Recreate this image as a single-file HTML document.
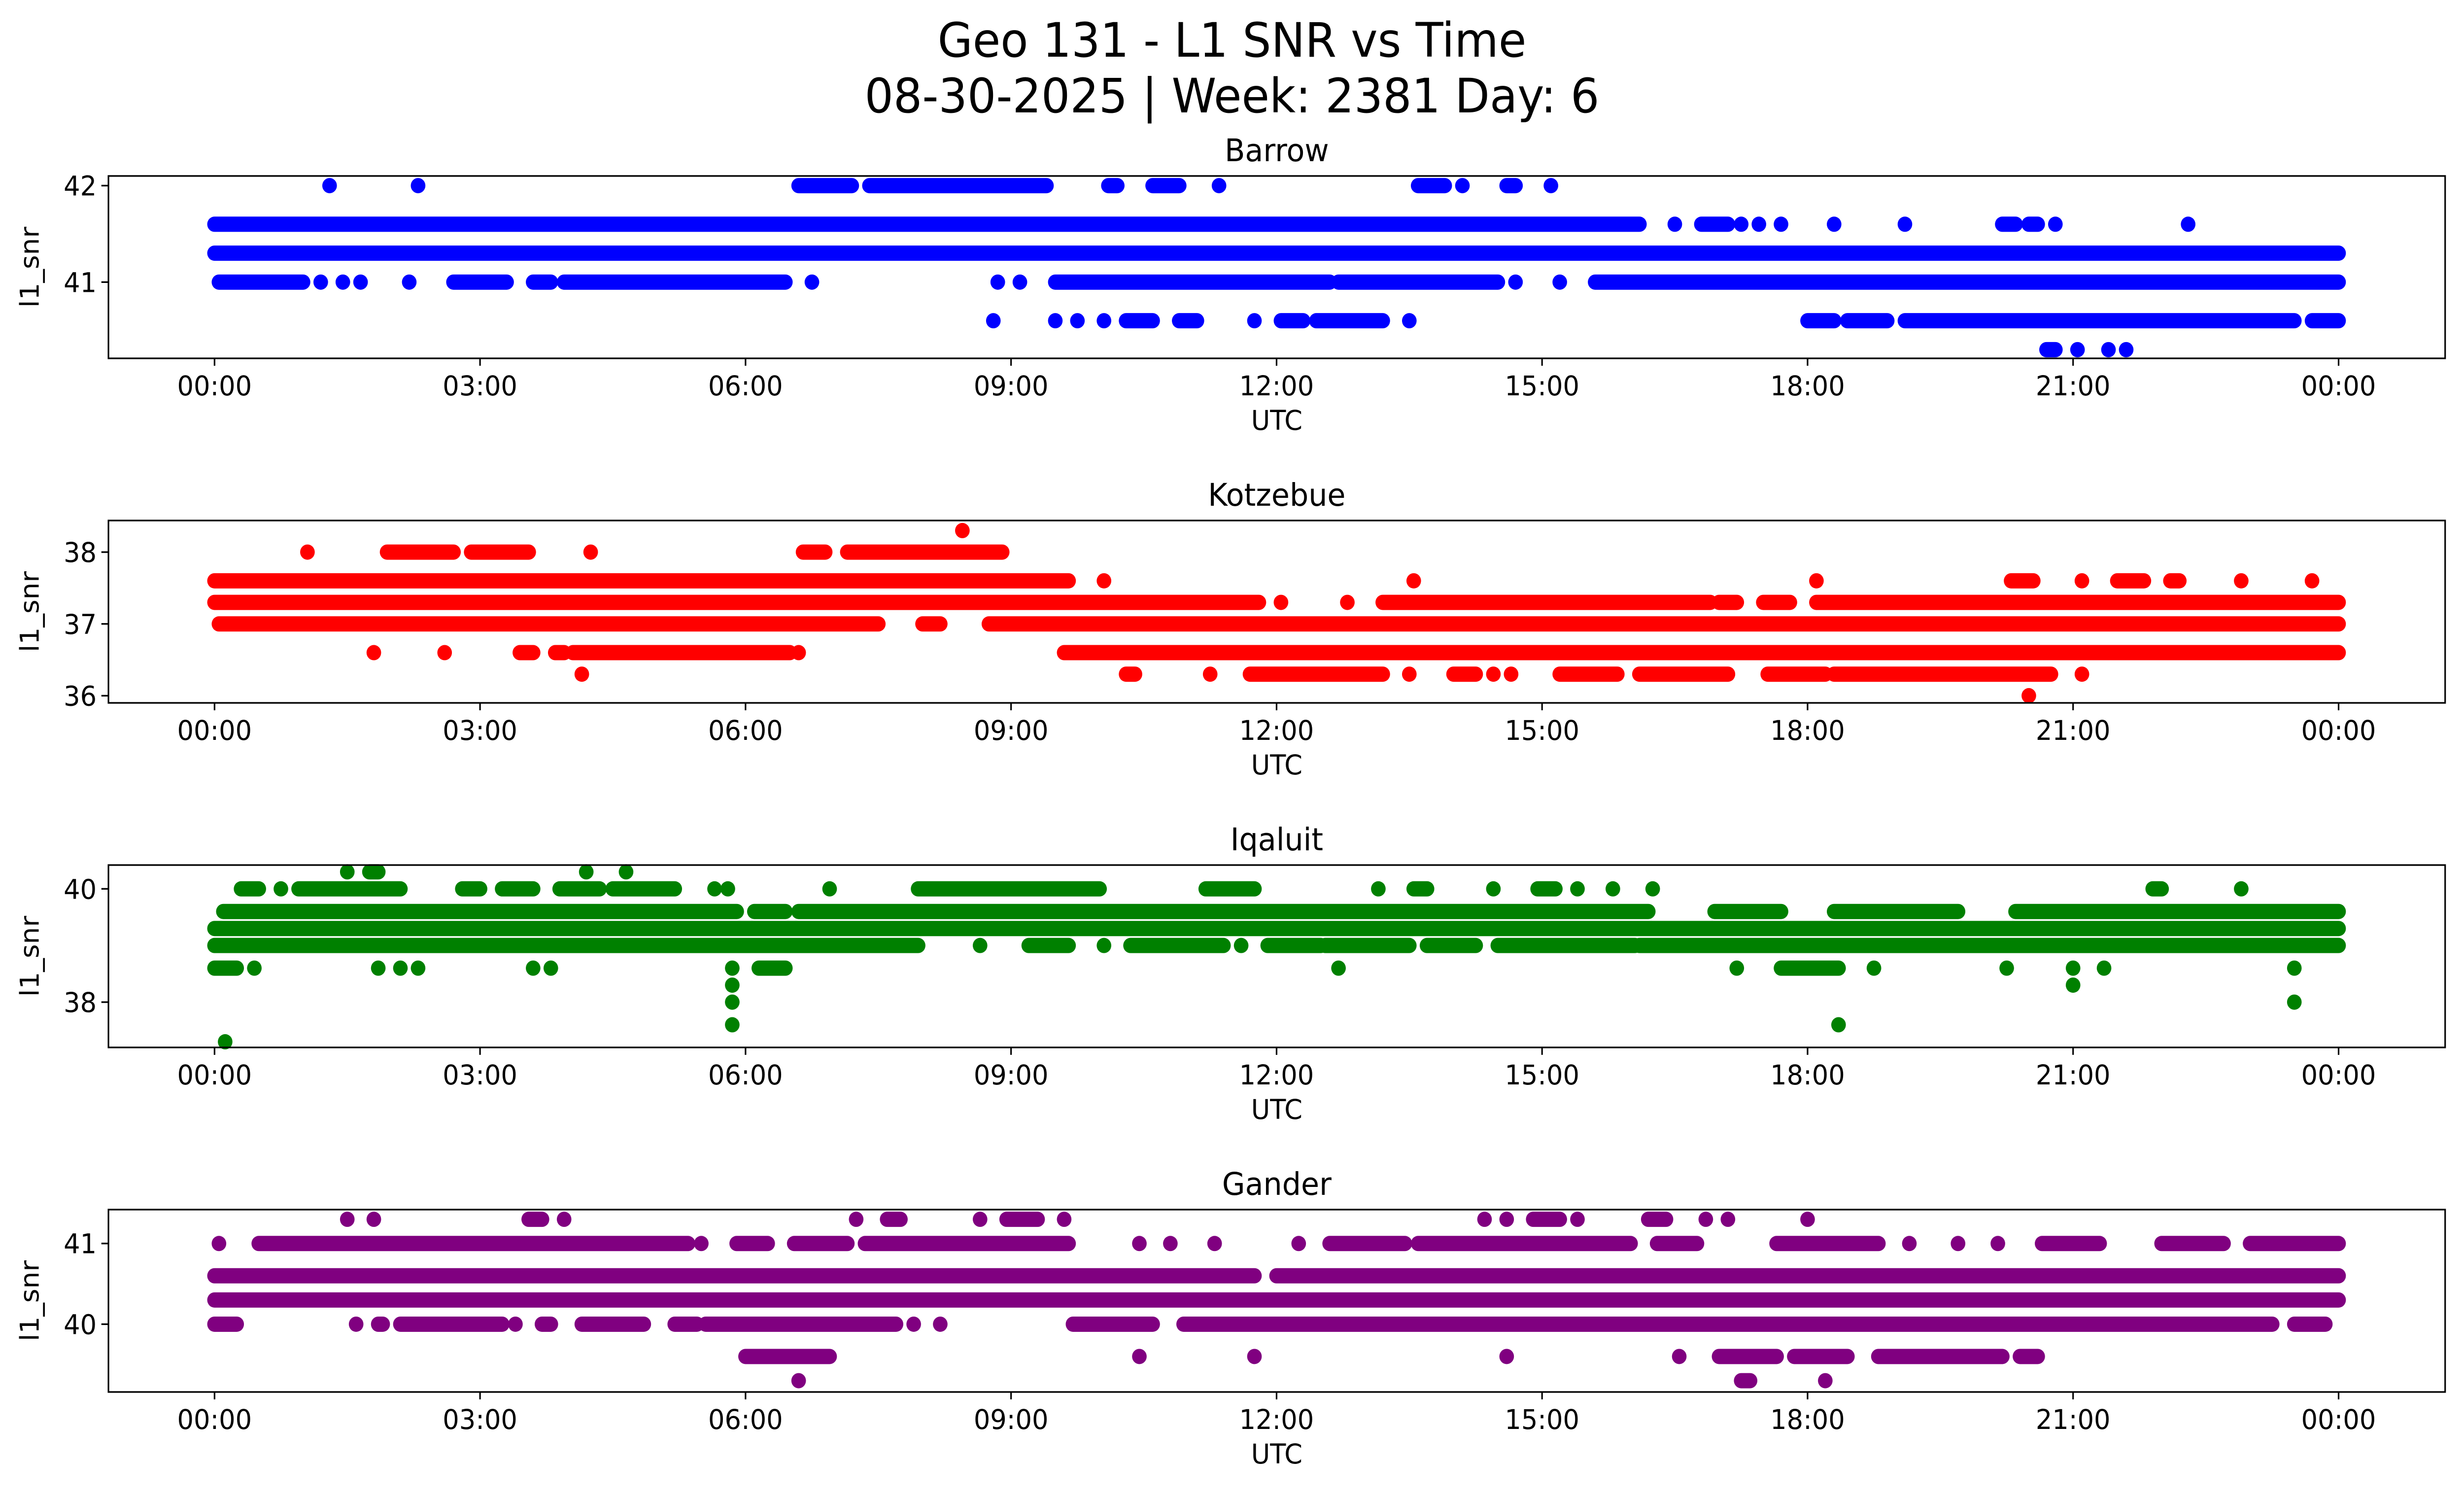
<!DOCTYPE html>
<html><head><meta charset="utf-8"><style>
html,body{margin:0;padding:0;background:#fff;overflow:hidden;width:100%;height:100%}
svg{display:block;position:fixed;left:0;top:0;width:100vw;height:100vh}
text{font-family:"DejaVu Sans","Liberation Sans",sans-serif;fill:#000}
</style></head><body>
<svg id="fig" viewBox="0 0 5226 3033" preserveAspectRatio="none" xmlns="http://www.w3.org/2000/svg">
<rect width="5226" height="3033" fill="#fff"/>
<text x="2613" y="115" font-size="96" text-anchor="middle">Geo 131 - L1 SNR vs Time</text>
<text x="2613" y="228" font-size="96" text-anchor="middle">08-30-2025 | Week: 2381 Day: 6</text>
<g id="plots"></g>
</svg>
<script>
const stations = ["Barrow","Kotzebue","Iqaluit","Gander"];
const colors = ["#0000ff","#ff0000","#008000","#800080"];
const xTickLabels = ["00:00","03:00","06:00","09:00","12:00","15:00","18:00","21:00","00:00"];
const xTickHours = [0,3,6,9,12,15,18,21,24];
const yTicks0 = [41,42];
const yTicks1 = [36,37,38];
const yTicks2 = [38,40];
const yTicks3 = [40,41];
const yRange0 = [40.21,42.1];
const yRange1 = [35.9,38.44];
const yRange2 = [37.2,40.42];
const yRange3 = [39.16,41.42];
// Observation runs per SNR level: [startHour, endHour] (equal = single obs)
const barrow = [
 [41.3, [[0,24]]],
 [41.6, [[0,16.1],[16.5,16.5],[16.8,17.1],[17.25,17.25],[17.45,17.45],[17.7,17.7],[18.3,18.3],[19.1,19.1],[20.2,20.35],[20.5,20.6],[20.8,20.8],[22.3,22.3]]],
 [41.0, [[0.05,1.0],[1.2,1.2],[1.45,1.45],[1.65,1.65],[2.2,2.2],[2.7,3.3],[3.6,3.8],[3.95,6.45],[6.75,6.75],[8.85,8.85],[9.1,9.1],[9.5,12.6],[12.7,14.5],[14.7,14.7],[15.2,15.2],[15.6,24]]],
 [42.0, [[1.3,1.3],[2.3,2.3],[6.6,7.2],[7.4,9.4],[10.1,10.2],[10.6,10.9],[11.35,11.35],[13.6,13.9],[14.1,14.1],[14.6,14.7],[15.1,15.1]]],
 [40.6, [[8.8,8.8],[9.5,9.5],[9.75,9.75],[10.05,10.05],[10.3,10.6],[10.9,11.1],[11.75,11.75],[12.05,12.3],[12.45,13.2],[13.5,13.5],[18.0,18.3],[18.45,18.9],[19.1,23.5],[23.7,24]]],
 [40.3, [[20.7,20.8],[21.05,21.05],[21.4,21.4],[21.6,21.6]]]
];
const kotzebue = [
 [37.6, [[0,9.65],[10.05,10.05],[13.55,13.55],[18.1,18.1],[20.3,20.55],[21.1,21.1],[21.5,21.8],[22.1,22.2],[22.9,22.9],[23.7,23.7]]],
 [37.3, [[0,11.8],[12.05,12.05],[12.8,12.8],[13.2,16.9],[17.0,17.2],[17.5,17.8],[18.1,24]]],
 [37.0, [[0.05,7.5],[8.0,8.2],[8.75,24]]],
 [36.6, [[1.8,1.8],[2.6,2.6],[3.45,3.6],[3.85,3.95],[4.05,6.5],[6.6,6.6],[9.6,24]]],
 [36.3, [[4.15,4.15],[10.3,10.4],[11.25,11.25],[11.7,13.2],[13.5,13.5],[14.0,14.25],[14.45,14.45],[14.65,14.65],[15.2,15.85],[16.1,17.1],[17.55,18.2],[18.3,20.75],[21.1,21.1]]],
 [38.0, [[1.05,1.05],[1.95,2.7],[2.9,3.55],[4.25,4.25],[6.65,6.9],[7.15,8.9]]],
 [38.3, [[8.45,8.45]]],
 [36.0, [[20.5,20.5]]]
];
const iqaluit = [
 [39.3, [[0,24]]],
 [39.6, [[0.1,5.9],[6.1,6.45],[6.6,16.2],[16.95,17.7],[18.3,19.7],[20.35,24]]],
 [39.0, [[0,7.95],[8.65,8.65],[9.2,9.65],[10.05,10.05],[10.35,11.4],[11.6,11.6],[11.9,12.5],[12.55,13.5],[13.7,14.25],[14.5,16.05],[16.1,24]]],
 [40.0, [[0.3,0.5],[0.75,0.75],[0.95,2.1],[2.8,3.0],[3.25,3.6],[3.9,4.35],[4.5,5.2],[5.65,5.65],[5.8,5.8],[6.95,6.95],[7.95,10.0],[11.2,11.75],[13.15,13.15],[13.55,13.7],[14.45,14.45],[14.95,15.15],[15.4,15.4],[15.8,15.8],[16.25,16.25],[21.9,22.0],[22.9,22.9]]],
 [40.3, [[1.5,1.5],[1.75,1.85],[4.2,4.2],[4.65,4.65]]],
 [38.6, [[0,0.25],[0.45,0.45],[1.85,1.85],[2.1,2.1],[2.3,2.3],[3.6,3.6],[3.8,3.8],[5.85,5.85],[6.15,6.45],[12.7,12.7],[17.2,17.2],[17.7,18.35],[18.75,18.75],[20.25,20.25],[21.0,21.0],[21.35,21.35],[23.5,23.5]]],
 [38.3, [[5.85,5.85],[21.0,21.0]]],
 [38.0, [[5.85,5.85],[23.5,23.5]]],
 [37.6, [[5.85,5.85],[18.35,18.35]]],
 [37.3, [[0.12,0.12]]]
];
const gander = [
 [40.6, [[0,11.75],[12.0,24]]],
 [40.3, [[0,24]]],
 [41.0, [[0.05,0.05],[0.5,5.35],[5.5,5.5],[5.9,6.25],[6.55,7.15],[7.35,9.65],[10.45,10.45],[10.8,10.8],[11.3,11.3],[12.25,12.25],[12.6,13.45],[13.6,16.0],[16.3,16.75],[17.65,18.8],[19.15,19.15],[19.7,19.7],[20.15,20.15],[20.65,21.3],[22.0,22.7],[23.0,24]]],
 [40.0, [[0,0.25],[1.6,1.6],[1.85,1.9],[2.1,3.25],[3.4,3.4],[3.7,3.8],[4.15,4.85],[5.2,5.45],[5.55,7.7],[7.9,7.9],[8.2,8.2],[9.7,10.6],[10.95,23.25],[23.5,23.85]]],
 [41.3, [[1.5,1.5],[1.8,1.8],[3.55,3.7],[3.95,3.95],[7.25,7.25],[7.6,7.75],[8.65,8.65],[8.95,9.3],[9.6,9.6],[14.35,14.35],[14.6,14.6],[14.9,15.2],[15.4,15.4],[16.2,16.4],[16.85,16.85],[17.1,17.1],[18.0,18.0]]],
 [39.6, [[6.0,6.95],[10.45,10.45],[11.75,11.75],[14.6,14.6],[16.55,16.55],[17.0,17.65],[17.85,18.45],[18.8,20.2],[20.4,20.6]]],
 [39.3, [[6.6,6.6],[17.25,17.35],[18.2,18.2]]]
];
const series = [barrow,kotzebue,iqaluit,gander];
const yTicksAll = [yTicks0,yTicks1,yTicks2,yTicks3];
const yRanges = [yRange0,yRange1,yRange2,yRange3];

const NS="http://www.w3.org/2000/svg";
const AX_L=230, AX_R=5186, X0=455, X24=4960, PANEL_H=370, PERIOD=699, TOP0=357;
function xScale(h){return X0+(X24-X0)*h/24;}
const g=document.getElementById('plots');
function mk(tag,attrs,parent){const e=document.createElementNS(NS,tag);for(const k in attrs)e.setAttribute(k,attrs[k]);parent.appendChild(e);return e;}
stations.forEach((name,i)=>{
  const top=TOP0+i*PERIOD, bot=top+PANEL_H;
  const [y0,y1]=yRanges[i];
  const yScale=v=>bot-(v-y0)/(y1-y0)*PANEL_H;
  const pg=mk('g',{},g);
  
  
  const t=mk('text',{x:(AX_L+AX_R)/2,y:top-30,'font-size':63,'text-anchor':'middle'},pg);
  t.textContent=name;
  
  
  const dots=mk('g',{fill:colors[i]},pg);
  
  
  series[i].forEach(([lvl,runs])=>{
    const cy=yScale(lvl);
    runs.forEach(([a,b])=>{
      if(b-a<0.001){
        const c=mk('circle',{cx:xScale(a),cy:cy,r:15.5},dots);
        
        
      } else {
        const r=mk('rect',{x:xScale(a)-15.5,y:cy-15.5,width:xScale(b)-xScale(a)+31,height:31,rx:15.5,ry:15.5},dots);
        
        
      }
    });
  });
  const frame=mk('rect',{x:AX_L,y:top,width:AX_R-AX_L,height:PANEL_H,fill:'none',stroke:'#000','stroke-width':3.3},pg);
  
  
  xTickHours.forEach((h,k)=>{
    const x=xScale(h);
    mk('line',{x1:x,x2:x,y1:bot,y2:bot+15,stroke:'#000','stroke-width':3.3},pg);
    const tl=mk('text',{x:x,y:bot+75,'font-size':55,'text-anchor':'middle'},pg);
    tl.textContent=xTickLabels[k];
    
    
  });
  yTicksAll[i].forEach(v=>{
    const y=yScale(v);
    mk('line',{x1:AX_L-15,x2:AX_L,y1:y,y2:y,stroke:'#000','stroke-width':3.3},pg);
    const tl=mk('text',{x:AX_L-25,y:y+20,'font-size':55,'text-anchor':'end'},pg);
    tl.textContent=String(v);
    
    
  });
  const xl=mk('text',{x:(AX_L+AX_R)/2,y:bot+145,'font-size':55,'text-anchor':'middle'},pg);
  xl.textContent='UTC';
  
  
  const cyMid=(top+bot)/2;
  const yl=mk('text',{x:0,y:0,'font-size':55,'text-anchor':'middle',transform:`translate(82,${cyMid}) rotate(-90)`},pg);
  yl.textContent='l1_snr';
  
  
});
</script>
</body></html>
